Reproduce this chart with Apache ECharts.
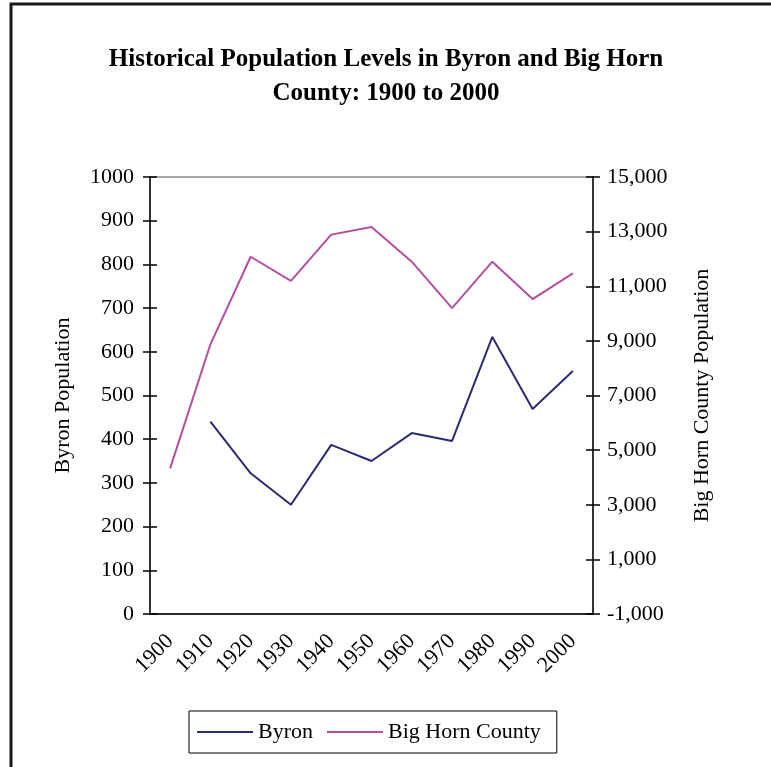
<!DOCTYPE html>
<html>
<head>
<meta charset="utf-8">
<script src="https://cdn.jsdelivr.net/npm/echarts@6/dist/echarts.min.js"></script>
<style>
html,body{margin:0;padding:0;background:#fff;}
#chart{width:771px;height:767px;}
</style>
</head>
<body>
<div id="chart"></div>
<script>
const years = ['1900','1910','1920','1930','1940','1950','1960','1970','1980','1990','2000'];
const byron = [null, 440, 322, 250, 387, 350, 414, 396, 634, 469, 556];
const bigHorn = [4330, 8870, 12080, 11200, 12890, 13170, 11900, 10200, 11900, 10530, 11470];
const leftTicks = {min: 0, max: 1000, interval: 100};
const rightTicks = {min: -1000, max: 15000, interval: 2000};

const serif = '"Liberation Serif","Times New Roman",serif';
const tickStyle = {color: '#000', width: 1.5};
function innerTickAxis(t, pos) {
  return {
    type: 'value', position: pos, min: t.min, max: t.max, interval: t.interval,
    axisLine: {show: false},
    axisTick: {show: true, inside: true, length: 7, lineStyle: tickStyle},
    axisLabel: {show: false}, splitLine: {show: false}
  };
}
const chart = echarts.init(document.getElementById('chart'), null, {renderer: 'canvas'});
chart.setOption({
  backgroundColor: '#fff',
  animation: false,
  graphic: [{
    type: 'rect', shape: {x: 11, y: 4, width: 820, height: 820},
    style: {fill: null, stroke: '#1a1a1a', lineWidth: 3}, z: 100
  }],
  title: {
    text: 'Historical Population Levels in Byron and Big Horn\nCounty: 1900 to 2000',
    left: 381, top: 38, textAlign: 'center',
    textStyle: {fontFamily: serif, fontWeight: 'bold', fontSize: 25, lineHeight: 34, color: '#000'}
  },
  legend: {
    data: ['Byron', 'Big Horn County'],
    left: 189, top: 711,
    padding: [10, 16, 10, 8],
    itemGap: 14,
    itemWidth: 56, itemHeight: 12,
    borderColor: '#000', borderWidth: 1,
    icon: 'path://M0,5 L56,5 L56,7 L0,7 Z',
    textStyle: {fontFamily: serif, fontSize: 22, color: '#000', padding: [0, 0, 0, 0]}
  },
  grid: {left: 150, right: 178, top: 177, bottom: 153, show: true, borderColor: '#8c8c8c', borderWidth: 1.5},
  xAxis: {
    type: 'category', data: years, boundaryGap: true,
    axisLine: {lineStyle: {color: '#000', width: 1.5}},
    axisTick: {show: false},
    axisLabel: {rotate: 45, fontFamily: serif, fontSize: 22, color: '#000', margin: 24, interval: 0}
  },
  yAxis: [{
    type: 'value', min: leftTicks.min, max: leftTicks.max, interval: leftTicks.interval,
    name: 'Byron Population', nameLocation: 'middle', nameGap: 76, nameRotate: 90,
    nameTextStyle: {fontFamily: serif, fontSize: 22, color: '#000'},
    axisLine: {show: true, lineStyle: {color: '#333', width: 2}},
    axisTick: {show: true, length: 7, lineStyle: tickStyle},
    axisLabel: {fontFamily: serif, fontSize: 22, color: '#000', margin: 16, formatter: v => String(v)},
    splitLine: {show: false}
  }, {
    type: 'value', min: rightTicks.min, max: rightTicks.max, interval: rightTicks.interval,
    name: 'Big Horn County Population', nameLocation: 'middle', nameGap: 98, nameRotate: 90,
    nameTextStyle: {fontFamily: serif, fontSize: 22, color: '#000'},
    axisLine: {show: true, lineStyle: {color: '#333', width: 2}},
    axisTick: {show: true, length: 7, lineStyle: tickStyle},
    axisLabel: {fontFamily: serif, fontSize: 22, color: '#000', margin: 14,
      formatter: v => v.toLocaleString('en-US')},
    splitLine: {show: false}
  },
  innerTickAxis(leftTicks, 'left'),
  innerTickAxis(rightTicks, 'right')],
  series: [{
    name: 'Byron', type: 'line', data: byron, yAxisIndex: 0,
    symbol: 'none', connectNulls: false,
    lineStyle: {color: '#2b2d6e', width: 2}, itemStyle: {color: '#2b2d6e'}
  }, {
    name: 'Big Horn County', type: 'line', data: bigHorn, yAxisIndex: 1,
    symbol: 'none',
    lineStyle: {color: '#b4509f', width: 2}, itemStyle: {color: '#b4509f'}
  }]
});
</script>
</body>
</html>
